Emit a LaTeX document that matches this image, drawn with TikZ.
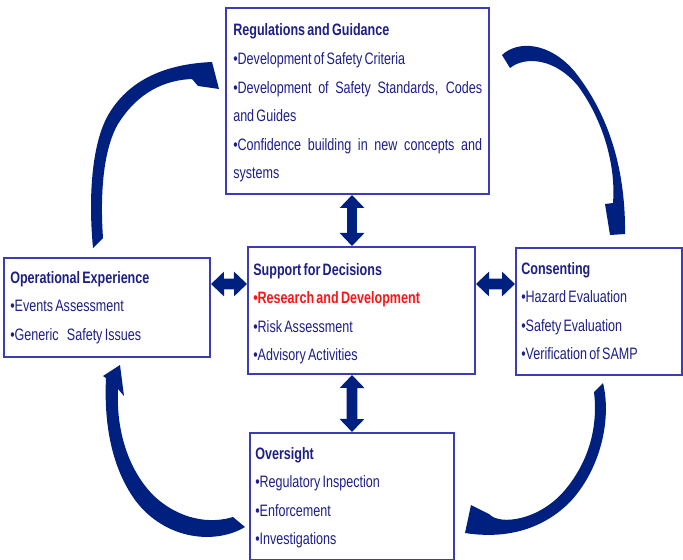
\documentclass[tikz,border=0pt]{standalone}
\usepackage{fontspec}
\setmainfont{Liberation Sans}[FakeStretch=0.76, WordSpace=0.65]
\usetikzlibrary{arrows.meta}
\definecolor{arrowblue}{RGB}{0,32,128}
\definecolor{boxblue}{RGB}{60,60,180}
\definecolor{textblue}{RGB}{30,30,135}
\definecolor{hotred}{RGB}{255,20,20}
\setlength{\parindent}{0pt}

\begin{document}
\begin{tikzpicture}[x=0.75pt,y=-0.75pt,
  box/.style={draw=boxblue, line width=1.5pt, inner sep=0pt, anchor=north west},
  txt/.style={anchor=base west, inner sep=0pt, text=textblue, align=justify,
    font=\fontsize{12.4}{21.4}\selectfont},
  dbl/.style={draw=arrowblue, line width=8pt,
    {Triangle[length=9.75pt,width=18pt]}-{Triangle[length=9.75pt,width=18pt]}}]
\useasboundingbox (0,0) rectangle (683,560);

% boxes
\node[box, minimum width=197.25pt, minimum height=139.5pt] (reg) at (225,7) {};
\node[box, minimum width=170.25pt, minimum height=95.25pt] (sup) at (247,246) {};
\node[box, minimum width=154.5pt, minimum height=74.25pt] (ops) at (3,257) {};
\node[box, minimum width=124.5pt, minimum height=95.25pt] (con) at (515,247) {};
\node[box, minimum width=153pt, minimum height=95.25pt] (ovs) at (249,432) {};

% box texts
\node[txt, text width=186.75pt] (regtxt) at (233,36)
  {\textbf{Regulations and Guidance}\par
   •Development of Safety Criteria\par
   •Development of Safety Standards, Codes\linebreak and Guides\par
   •Confidence building in new concepts and\linebreak systems};
\node[txt, text width=165pt] (suptxt) at (253,275)
  {\textbf{Support for Decisions}\par
   {\color{hotred}\bfseries •Research and Development}\par
   •Risk Assessment\par
   •Advisory Activities};
\node[txt, text width=142pt] (opstxt) at (10,283)
  {\textbf{Operational Experience}\par
   •Events Assessment\par
   •Generic\hspace{0.5em}Safety Issues};
\node[txt, text width=116pt] (contxt) at (521,274)
  {\textbf{Consenting}\par
   •Hazard Evaluation\par
   •Safety Evaluation\par
   •Verification of SAMP};
\node[txt, text width=142pt] (ovstxt) at (255,459)
  {\textbf{Oversight}\par
   •Regulatory Inspection\par
   •Enforcement\par
   •Investigations};

% two-way links to the centre
\draw[dbl] ([xshift=-4.1pt]reg.south) -- ([xshift=-7.1pt]sup.north);
\draw[dbl] ([xshift=-7.1pt]sup.south) -- (ovs.north);
\draw[dbl] ([yshift=17.6pt]ops.east) -- ([yshift=19.9pt]sup.west);
\draw[dbl] ([yshift=19.9pt]sup.east) -- ([yshift=20.6pt]con.west);

% curved block arrows round the cycle
\fill[arrowblue] (93,248) .. controls (88,195) and (92,140) .. (110,112)
  .. controls (130,80) and (165,64) .. (212,62) -- (219,89) -- (198,86) -- (192,79)
  .. controls (165,80) and (138,92) .. (118,124)
  .. controls (103,150) and (100,195) .. (103,238) -- cycle;
\fill[arrowblue] (502,55) .. controls (518,40) and (550,42) .. (575,72)
  .. controls (605,110) and (624,160) .. (625,225) -- (625,234) -- (610,235) -- (605,204) -- (613,203)
  .. controls (616,165) and (603,120) .. (578,86)
  .. controls (555,58) and (525,56) .. (510,68) -- cycle;
\fill[arrowblue] (603,383) .. controls (612,420) and (600,470) .. (570,502)
  .. controls (545,527) and (510,540) .. (465,533) -- (471,505) -- (489,514)
  .. controls (500,526) and (540,520) .. (565,490)
  .. controls (590,460) and (598,425) .. (594,392) -- cycle;
\fill[arrowblue] (245,527) .. controls (215,545) and (165,540) .. (135,500)
  .. controls (110,465) and (104,420) .. (106,378) -- (103,376) -- (120,365) -- (124,396) -- (118,389)
  .. controls (116,430) and (128,470) .. (154,496)
  .. controls (180,520) and (210,524) .. (233,517) -- cycle;
\end{tikzpicture}
\end{document}
